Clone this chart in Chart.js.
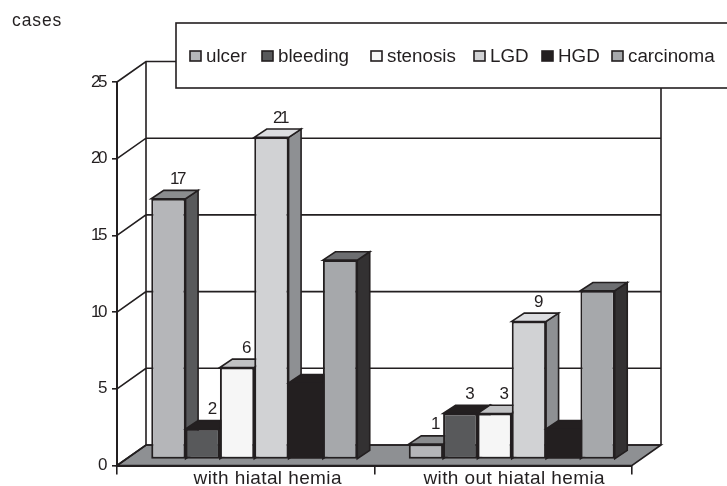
<!DOCTYPE html>
<html>
<head>
<meta charset="utf-8">
<style>
  html, body { margin: 0; background: #fff; }
  #wrap { width: 727px; height: 486px; }
</style>
<script src="https://cdn.jsdelivr.net/npm/chart.js@4"></script>
</head>
<body>
<div id="wrap"><canvas id="casos" width="727" height="486"></canvas></div>
<script>
const categories = ['with hiatal hemia', 'with out hiatal hemia'];
const seriesNames = ['ulcer', 'bleeding', 'stenosis', 'LGD', 'HGD', 'carcinoma'];
const ulcer = [17, 1];
const bleeding = [2, 3];
const stenosis = [6, 3];
const lgd = [21, 9];
const hgd = [5, 2];
const carcinoma = [13, 11];
const yTicks = [0, 5, 10, 15, 20, 25];
const labelledSeries = ['ulcer', 'bleeding', 'stenosis', 'LGD'];

const seriesValues = [ulcer, bleeding, stenosis, lgd, hgd, carcinoma];
const frontColors = ['#b5b6b9', '#58595b', '#f6f6f6', '#d1d2d4', '#231f20', '#a6a8ab'];
const sideColors = ['#58595b', '#414042', '#bcbec0', '#8e9093', '#231f20', '#333132'];
const topColors = ['#8a8c8e', '#231f20', '#c0c1c3', '#dcdde0', '#231f20', '#6d6e71'];

const INK = '#231f20';
const wall = { x: 29, y: -20.5 };
const barShift = { x: 8.5, y: -6 };
const barDepth = { x: 12.5, y: -8.3 };
const legendSpots = [190, 262, 371, 474, 542, 612];
const labelShift = [22, 11];

function poly(ctx, pts, fill) {
  ctx.beginPath();
  pts.forEach((p, i) => i ? ctx.lineTo(p[0], p[1]) : ctx.moveTo(p[0], p[1]));
  ctx.closePath();
  ctx.fillStyle = fill;
  ctx.fill();
  ctx.stroke();
}

const box3d = {
  id: 'box3d',
  beforeDraw(chart) {
    const { ctx, chartArea: a, scales: { y } } = chart;
    ctx.save();
    ctx.strokeStyle = INK;
    ctx.lineWidth = 1.6;
    const y0 = y.getPixelForValue(0);
    const top = y.getPixelForValue(25);
    poly(ctx, [[a.left, y0], [a.left + wall.x, y0 + wall.y], [a.right + wall.x, y0 + wall.y], [a.right, y0]], '#8e9093');
    ctx.beginPath();
    ctx.moveTo(a.left + wall.x, y0 + wall.y);
    ctx.lineTo(a.left + wall.x, top + wall.y);
    ctx.moveTo(a.right + wall.x, y0 + wall.y);
    ctx.lineTo(a.right + wall.x, top + wall.y);
    yTicks.forEach(v => {
      const py = y.getPixelForValue(v);
      ctx.moveTo(a.left, py);
      ctx.lineTo(a.left + wall.x, py + wall.y);
      ctx.lineTo(a.right + wall.x, py + wall.y);
    });
    ctx.stroke();
    ctx.restore();
    // the tick numbers sit very tight in the source
    ctx.letterSpacing = '-2.5px';
  },
  // bars go left to right so each front face covers the side of the one before
  beforeDatasetsDraw(chart) {
    const ctx = chart.ctx;
    ctx.letterSpacing = '0px';
    seriesNames.forEach((name, i) => {
      const meta = chart.getDatasetMeta(i);
      ctx.save();
      ctx.translate(barShift.x, barShift.y);
      ctx.strokeStyle = INK;
      ctx.lineWidth = 1.6;
      meta.data.forEach(bar => {
        const l = bar.x - bar.width / 2;
        const r = bar.x + bar.width / 2;
        const d = barDepth;
        poly(ctx, [[r, bar.y], [r + d.x, bar.y + d.y], [r + d.x, bar.base + d.y], [r, bar.base]], sideColors[i]);
        poly(ctx, [[l, bar.y], [l + d.x, bar.y + d.y], [r + d.x, bar.y + d.y], [r, bar.y]], topColors[i]);
      });
      meta.controller.draw();
      ctx.restore();
    });
    return false;
  },
  afterDraw(chart) {
    const { ctx, scales: { x } } = chart;
    ctx.save();
    ctx.fillStyle = INK;
    ctx.textBaseline = 'middle';
    ctx.textAlign = 'center';

    // value labels above the bars
    ctx.font = '17px "Liberation Sans"';
    ctx.letterSpacing = '-2.5px';
    seriesNames.forEach((name, i) => {
      if (!labelledSeries.includes(name)) return;
      chart.getDatasetMeta(i).data.forEach((bar, j) => {
        ctx.fillText(seriesValues[i][j], bar.x + 17, bar.y - 25.5);
      });
    });

    // category labels
    ctx.font = '19px "Liberation Sans"';
    ctx.letterSpacing = '0.4px';
    categories.forEach((c, i) => {
      ctx.fillText(c, x.getPixelForValue(i) + labelShift[i], 479);
    });

    ctx.font = '17.5px "Liberation Sans"';
    ctx.letterSpacing = '0.9px';
    ctx.textAlign = 'left';
    ctx.fillText('cases', 12, 21);

    // legend box
    ctx.letterSpacing = '0px';
    ctx.strokeStyle = INK;
    ctx.lineWidth = 1.6;
    ctx.fillStyle = '#fff';
    ctx.fillRect(176, 23, 560, 65);
    ctx.strokeRect(176, 23, 560, 65);
    ctx.font = '18.8px "Liberation Sans"';
    seriesNames.forEach((name, i) => {
      ctx.fillStyle = frontColors[i];
      ctx.fillRect(legendSpots[i], 51, 11, 10);
      ctx.strokeRect(legendSpots[i], 51, 11, 10);
      ctx.fillStyle = INK;
      ctx.fillText(name, legendSpots[i] + 16, 57);
    });
    ctx.restore();
  }
};

new Chart(document.getElementById('casos'), {
  type: 'bar',
  data: {
    labels: categories,
    datasets: seriesNames.map((name, i) => ({
      label: name,
      data: seriesValues[i],
      backgroundColor: frontColors[i],
      borderColor: INK,
      // HGD is already ink coloured, a border only leaves a seam on it
      borderWidth: frontColors[i] === INK ? 0 : 2,
      borderSkipped: false
    }))
  },
  options: {
    responsive: false,
    animation: false,
    categoryPercentage: 0.8,
    barPercentage: 1,
    layout: { padding: { left: 0, top: 82, right: 95, bottom: 0 } },
    plugins: {
      legend: { display: false },
      title: { display: false },
      tooltip: { enabled: false }
    },
    scales: {
      x: {
        afterFit: s => { s.height = 20.5; },
        grid: { offset: true, drawOnChartArea: false, color: INK, lineWidth: 1.6, tickLength: 9 },
        border: { color: INK, width: 2 },
        ticks: { display: false }
      },
      y: {
        min: 0,
        max: 25,
        afterFit: s => { s.width = 117; },
        afterBuildTicks: s => { s.ticks = yTicks.map(v => ({ value: v })); },
        grid: { drawOnChartArea: false, color: INK, lineWidth: 1.6, tickLength: 5 },
        border: { color: INK, width: 2 },
        ticks: {
          color: INK,
          padding: 7,
          font: { family: '"Liberation Sans"', size: 17 }
        }
      }
    }
  },
  plugins: [box3d]
});
</script>
</body>
</html>
